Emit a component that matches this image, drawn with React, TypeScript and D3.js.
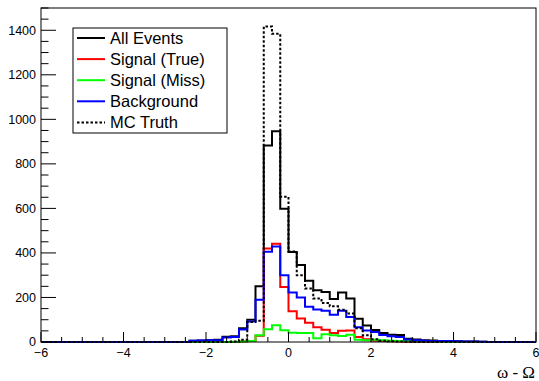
import * as d3 from "d3";

// 60 bins of width 0.2 from -6 to 6
const binEdges = d3.range(0, 61).map((i) => -6 + i * 0.2);

// counts per bin (index 0 = [-6,-5.8])
const allEvents = [
  0, 0, 0, 0, 0, 0, 0, 0, 0, 0, 0, 0, 0, 0, 0, 0, 0, 0, 6, 7,
  8, 10, 24, 26, 62, 100, 250, 882, 947, 598, 404, 346, 275, 232, 225, 193, 222, 195, 104, 74,
  54, 40, 33, 31, 15, 11, 8, 7, 5, 4, 3, 2, 2, 1, 0, 0, 0, 0, 0, 0,
];
const signalTrue = [
  0, 0, 0, 0, 0, 0, 0, 0, 0, 0, 0, 0, 0, 0, 0, 0, 0, 0, 0, 0,
  0, 0, 0, 0, 2, 4, 28, 420, 441, 247, 138, 106, 86, 66, 55, 40, 50, 52, 22, 12,
  6, 5, 3, 2, 1, 0, 0, 0, 0, 0, 0, 0, 0, 0, 0, 0, 0, 0, 0, 0,
];
const signalMiss = [
  0, 0, 0, 0, 0, 0, 0, 0, 0, 0, 0, 0, 0, 0, 0, 0, 0, 0, 0, 0,
  0, 0, 0, 1, 2, 4, 30, 57, 75, 53, 42, 40, 40, 17, 35, 30, 27, 33, 10, 8,
  10, 8, 6, 5, 4, 3, 2, 2, 1, 0, 0, 0, 0, 0, 0, 0, 0, 0, 0, 0,
];
const background = [
  0, 0, 0, 0, 0, 0, 0, 0, 0, 0, 0, 0, 0, 0, 0, 0, 0, 0, 6, 7,
  8, 8, 20, 23, 56, 92, 190, 405, 429, 300, 222, 200, 158, 146, 140, 122, 140, 112, 66, 52,
  45, 32, 26, 22, 11, 8, 6, 5, 4, 4, 3, 2, 2, 1, 0, 0, 0, 0, 0, 0,
];
const mcTruth = [
  0, 0, 0, 0, 0, 0, 0, 0, 0, 0, 0, 0, 0, 0, 0, 0, 0, 0, 0, 0,
  0, 0, 0, 2, 10, 90, 95, 1417, 1384, 652, 407, 300, 240, 195, 175, 160, 145, 128, 62, 30,
  12, 6, 3, 2, 1, 0, 0, 0, 0, 0, 0, 0, 0, 0, 0, 0, 0, 0, 0, 0,
];

const legendLabels = ["All Events", "Signal (True)", "Signal (Miss)", "Background", "MC Truth"];
const xTicks = [-6, -4, -2, 0, 2, 4, 6];
const yTicks = [0, 200, 400, 600, 800, 1000, 1200, 1400];

const series = [
  { name: legendLabels[0], values: allEvents, color: "#000000", dash: undefined },
  { name: legendLabels[1], values: signalTrue, color: "#ff0000", dash: undefined },
  { name: legendLabels[2], values: signalMiss, color: "#00ff00", dash: undefined },
  { name: legendLabels[3], values: background, color: "#0000ff", dash: undefined },
  { name: legendLabels[4], values: mcTruth, color: "#000000", dash: "2.5,2" },
];

export default function App() {
  const width = 539;
  const height = 381;
  const margin = { top: 8, right: 3, bottom: 39, left: 41 };
  const font = "'Liberation Sans', Arial, sans-serif";

  const x = d3.scaleLinear().domain([-6, 6]).range([margin.left, width - margin.right]);
  const y = d3.scaleLinear().domain([0, 1500]).range([height - margin.bottom, margin.top]);

  const step = d3
    .line<[number, number]>()
    .x((d) => x(d[0]))
    .y((d) => y(d[1]))
    .curve(d3.curveStepAfter);

  const pathFor = (values: number[]) => {
    const pts: [number, number][] = values.map((v, i) => [binEdges[i], v]);
    pts.push([binEdges[binEdges.length - 1], values[values.length - 1]]);
    return step(pts) || "";
  };

  const x0 = margin.left;
  const x1 = width - margin.right;
  const yb = height - margin.bottom;
  const yt = margin.top;

  const yMinor = d3.range(0, 1501, 50).filter((v) => v % 200 !== 0);
  const xMinor = d3.range(-6, 6.01, 0.5).filter((v) => Math.abs(v % 2) > 0.01);

  const legend = { x: 73, y: 28, w: 154, h: 105 };
  const rowH = 21.1;

  return (
    <svg
      width={width}
      height={height}
      style={{ position: "absolute", left: 0, top: 0, background: "#fff" }}
      fontFamily={font}
    >
      <rect x={0} y={0} width={width} height={height} fill="#fff" />

      {series.map((s) => (
        <path
          key={s.name}
          d={pathFor(s.values)}
          fill="none"
          stroke={s.color}
          strokeWidth={2}
          strokeDasharray={s.dash}
        />
      ))}

      {/* frame */}
      <rect x={x0} y={yt} width={x1 - x0} height={yb - yt} fill="none" stroke="#000" strokeWidth={1} />

      {/* y axis ticks */}
      {yTicks.map((t) => (
        <g key={"y" + t}>
          <line x1={x0} x2={x0 + 15} y1={y(t)} y2={y(t)} stroke="#000" />
          <text x={36} y={y(t)} dy="0.35em" textAnchor="end" fontSize={12.5}>
            {t}
          </text>
        </g>
      ))}
      {yMinor.map((t) => (
        <line key={"ym" + t} x1={x0} x2={x0 + 7.5} y1={y(t)} y2={y(t)} stroke="#000" />
      ))}

      {/* x axis ticks */}
      {xTicks.map((t) => (
        <g key={"x" + t}>
          <line x1={x(t)} x2={x(t)} y1={yb} y2={yb - 10} stroke="#000" />
          <text x={x(t)} y={357} textAnchor="middle" fontSize={12.5}>
            {t < 0 ? "\u2212" + Math.abs(t) : t}
          </text>
        </g>
      ))}
      {xMinor.map((t) => (
        <line key={"xm" + t} x1={x(t)} x2={x(t)} y1={yb} y2={yb - 5} stroke="#000" />
      ))}

      <text x={535} y={378} textAnchor="end" fontSize={17} fontFamily="'Liberation Serif', 'DejaVu Serif', serif">
        ω - Ω
      </text>

      {/* legend */}
      <rect x={legend.x} y={legend.y} width={legend.w} height={legend.h} fill="#fff" stroke="#000" strokeWidth={1} />
      {series.map((s, i) => {
        const cy = legend.y + 10 + i * rowH;
        return (
          <g key={"lg" + s.name}>
            <line
              x1={legend.x + 4}
              x2={legend.x + 32}
              y1={cy}
              y2={cy}
              stroke={s.color}
              strokeWidth={2}
              strokeDasharray={s.dash}
            />
            <text x={legend.x + 37} y={cy} dy="0.36em" fontSize={16.5}>
              {s.name}
            </text>
          </g>
        );
      })}
    </svg>
  );
}
